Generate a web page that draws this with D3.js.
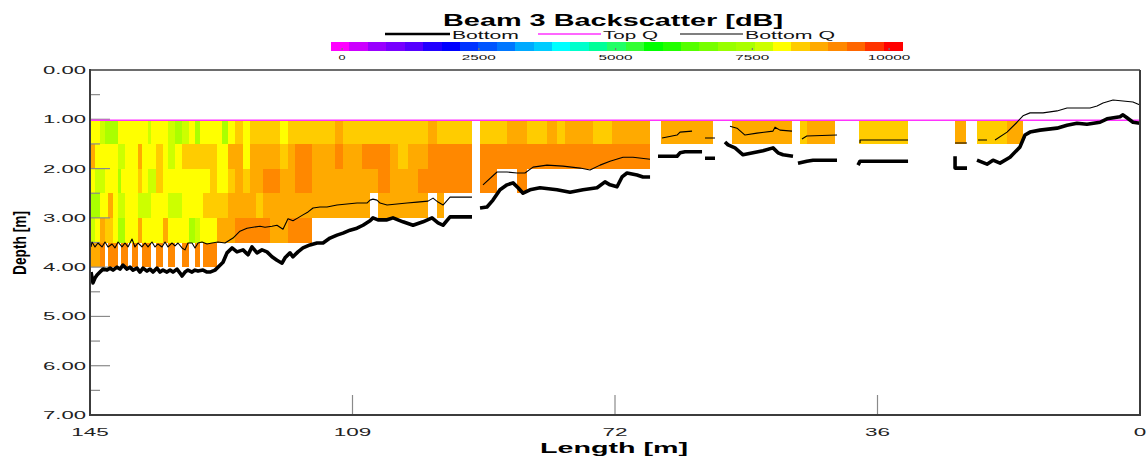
<!DOCTYPE html>
<html><head><meta charset="utf-8">
<script src="https://cdn.jsdelivr.net/npm/d3@7"></script>
<style>
body{margin:0;background:#fff;}
svg{display:block;}
text{font-family:"Liberation Sans",Arial,sans-serif;}
</style>
</head><body>
<svg id="c" width="1147" height="461"></svg>
<script>
// ---------- DATA ----------
// Column (ensemble) edges along the transect, in metres of length
const lengthEdges = [145.00,144.31,143.62,142.93,142.51,141.82,141.13,140.72,140.17,139.75,
 139.20,138.37,137.82,136.99,136.58,135.89,134.92,134.23,133.26,132.29,
 131.33,130.50,129.81,129.39,128.43,127.46,126.77,125.94,124.98,123.87,
 122.90,122.08,121.11,120.14,118.76,117.66,116.69,115.59,114.34,113.24,
 111.17,110.06,108.82,107.44,106.33,105.23,103.57,102.47,101.09,99.70,
 98.32,97.08,96.11,95.28,94.18,93.21,92.25,
 91.14,88.79,87.41,86.03,84.65,83.27,81.89,80.51,79.40,78.02,76.64,75.54,74.16,72.92,71.12,69.33,67.66,
 66.15,58.97,56.34,48.06,46.96,45.99,42.12,38.81,32.03,25.54,24.02,22.51,18.36,16.16];
// Depth cell edges (m)
const depthEdges = [1.03,1.5,2.0,2.5,3.0,3.5,4.0];
// Backscatter values per column, top cell first (null / missing = no data)
const backscatter = [
 [8000,8650,8000,7450,7800,8650],[8000,8000,7800,7450,8000,8650],[7800,8000,7800,8000,8650,8950],
 [7450,8000,8000,8000,8300,null],[7450,8000,8000,8650,8300,8950],[7450,8000,8000,8000,8000,8950],
 [8000,7800,7450,7800,7450,null],[8000,7800,8000,7800,7450,8950],[8000,8000,8000,8000,8000,8950],
 [8000,8000,8000,8000,8000,null],[8000,8000,8000,8000,8000,8950],[8000,8650,8300,7800,8650,null],
 [8000,8000,8000,7800,8000,8950],[7800,8000,7800,7800,8000,8950],[8000,8000,7800,8000,8000,null],
 [8000,8300,8300,8000,8000,8950],[8000,8000,8000,8000,8650,null],[7800,7800,8000,7800,8000,8950],
 [7450,8000,8000,7800,8000,null],[7800,8300,8000,8000,8000,8950],[8000,8300,8000,8000,7450,null],
 [7450,8300,8000,8000,7800,8950],[8000,8300,8000,8000,8000,null],[8000,8300,8000,8300,8000,8950],
 [8000,8300,8300,8300,8000,8950],[8000,8000,8000,8300,8650,null],[7450,8000,8000,8300,8650,null],
 [8000,8650,8300,8650,8650,null],[8300,8650,8650,8650,8950,null],[8000,8000,8300,8650,8950,null],
 [8300,8650,8650,8650,8950,null],[8300,8650,8650,8300,8950,null],[8300,8650,8950,8650,8950,null],
 [8300,8650,8950,8650,8650,null],[8000,8300,8650,8650,8650,null],[8300,8650,8650,8650,8950,null],
 [8300,8950,8950,8650,8950,null],[8300,8950,8950,8650,8950,null],[8300,8650,8650,8650,null,null],
 [8300,8650,8650,8650,null,null],[8650,8950,8650,8650,null,null],[8300,8650,8650,8650,null,null],
 [8300,8650,8650,8650,null,null],[8300,8950,8650,8650,null,null],[8300,8950,8650,null,null,null],
 [8300,8950,8950,8650,null,null],[8300,8650,8650,8650,null,null],[8300,8300,8650,8650,null,null],
 [8300,8650,8650,8650,null,null],[8300,8650,8950,8650,null,null],[8650,8950,8950,null,null,null],
 [8300,8950,8950,8650,null,null],[8300,8950,8950],[8300,8950,8950],[8300,8950,8950],[8300,8950,8950],
 [],
 [8300,8950,8950],[8300,8950],[8650,8950],[8650,8950,8950],[8300,8950],[8300,8950],[8650,8950],
 [8300,8950],[8650,8950],[8650,8950],[8650,8950],[8300,8950],[8300,8950],[8650,8950],[8650,8950],[8650,8950],
 [],[8650],[],[8650],[],[8300],[8650],[],[8300],[],[8650],[],[8300],[8650]
];
// Lines: [length m, depth m]; null = break
const bottomLine = [
 [144.86,4.10],[144.59,4.32],[144.31,4.22],[144.03,4.16],[143.62,4.10],[143.20,4.04],[142.65,4.06],[142.24,4.02],[141.82,4.06],[141.27,4.00],[140.86,4.04],[140.44,3.96],[139.89,4.04],[139.48,4.00],[139.06,4.06],[138.51,4.02],[138.10,4.10],[137.68,4.02],[137.13,4.08],[136.71,4.04],[136.30,4.10],[135.75,4.02],[135.33,4.10],[134.92,4.06],[134.37,4.10],[133.95,4.06],[133.54,4.10],[132.99,4.04],[132.57,4.12],[132.29,4.18],[131.88,4.10],[131.47,4.06],[130.91,4.10],[130.50,4.06],[130.08,4.08],[129.39,4.06],[128.84,4.10],[128.43,4.10],[127.74,4.06],[127.05,3.96],[126.63,3.90],[126.08,3.71],[125.39,3.61],[124.70,3.69],[123.87,3.65],[123.18,3.75],[122.63,3.59],[121.94,3.71],[121.25,3.65],[120.56,3.69],[119.87,3.79],[119.18,3.86],[118.48,3.92],[118.07,3.81],[117.38,3.71],[116.97,3.79],[116.28,3.69],[115.59,3.61],[114.62,3.55],[113.65,3.51],[112.82,3.51],[111.86,3.41],[110.89,3.35],[110.06,3.31],[109.09,3.25],[108.13,3.21],[107.30,3.15],[106.33,3.06],[105.92,3.00],[105.23,3.04],[103.98,3.04],[103.16,3.00],[101.78,3.08],[100.39,3.15],[99.01,3.08],[97.77,3.00],[96.94,3.10],[96.25,3.15],[95.28,2.98],[92.25,2.98],
 null,
 [91.14,2.80],[90.18,2.78],[89.35,2.64],[88.38,2.43],[87.41,2.33],[86.58,2.29],[85.89,2.39],[85.20,2.50],[84.24,2.43],[82.86,2.39],[80.51,2.43],[78.71,2.48],[76.92,2.43],[74.98,2.39],[73.88,2.27],[73.19,2.33],[72.22,2.37],[71.53,2.17],[70.84,2.09],[69.46,2.13],[68.63,2.17],[67.66,2.17],
 null,
 [66.56,1.75],[63.93,1.75],[63.52,1.68],[62.83,1.66],[60.48,1.66],
 null,
 [60.07,1.79],[58.69,1.79],
 null,
 [57.31,1.46],[56.89,1.52],[55.93,1.58],[54.82,1.72],[53.44,1.68],[52.06,1.64],[50.68,1.58],[49.99,1.68],[49.30,1.72],[47.92,1.75],
 null,
 [47.23,1.89],[46.02,1.85],[45.15,1.83],[41.84,1.83],
 null,
 [38.94,1.93],[38.66,1.85],[32.03,1.85],
 null,
 [25.54,1.75],[25.54,1.99],[23.89,1.99],
 null,
 [22.51,1.83],[21.13,1.91],[20.30,1.83],[19.33,1.89],[17.95,1.77],[16.57,1.56],[15.88,1.32],[15.19,1.26],[13.81,1.22],[11.46,1.18],[10.08,1.12],[8.70,1.08],[7.32,1.10],[5.52,1.06],[4.55,0.99],[2.76,0.95],[2.35,0.91],[1.80,0.97],[0.97,1.06],[0.00,1.08]
];
const bottomQLine = [
 [144.86,3.59],[144.72,3.49],[144.31,3.59],[143.90,3.51],[143.34,3.59],[142.93,3.49],[142.51,3.59],[141.96,3.53],[141.55,3.61],[141.13,3.49],[140.58,3.59],[140.17,3.51],[139.75,3.59],[139.20,3.43],[138.79,3.59],[138.37,3.51],[137.82,3.59],[137.40,3.51],[136.99,3.59],[136.44,3.49],[136.02,3.59],[135.61,3.53],[135.06,3.59],[134.64,3.49],[134.23,3.59],[133.68,3.51],[133.26,3.57],[132.85,3.51],[132.29,3.61],[131.88,3.65],[131.47,3.51],[130.91,3.51],[130.50,3.61],[130.08,3.51],[129.53,3.49],[128.84,3.53],[128.15,3.51],[127.32,3.49],[126.36,3.51],[125.25,3.41],[124.29,3.27],[123.32,3.21],[122.49,3.19],[121.52,3.17],[120.83,3.19],[119.87,3.17],[119.18,3.15],[118.35,3.23],[117.66,3.02],[116.97,3.06],[116.28,3.00],[115.59,2.94],[114.89,2.88],[114.20,2.80],[113.24,2.78],[112.27,2.78],[110.89,2.74],[109.51,2.72],[108.13,2.70],[106.75,2.70],[106.33,2.64],[105.92,2.62],[105.37,2.64],[104.95,2.70],[103.98,2.74],[102.60,2.72],[101.22,2.70],[99.84,2.68],[98.32,2.66],[97.63,2.60],[96.94,2.68],[96.25,2.74],[95.28,2.58],[92.25,2.58],
 null,
 [90.73,2.33],[88.79,2.07],[87.41,2.07],[86.03,2.09],[84.93,2.09],[83.82,1.97],[81.89,1.93],[79.68,1.95],[77.33,1.99],[75.95,2.03],[74.57,1.93],[73.19,1.85],[71.39,1.77],[70.01,1.77],[67.66,1.81],
 null,
 [66.00,1.38],[63.93,1.32],[63.52,1.26],[61.86,1.24],
 null,
 [60.07,1.38],[58.69,1.38],
 null,
 [56.62,1.14],[55.65,1.18],[54.55,1.32],[52.89,1.28],[50.68,1.24],[50.40,1.16],[49.72,1.22],[48.06,1.24],
 null,
 [46.68,1.40],[46.02,1.34],[41.84,1.32],
 null,
 [38.66,1.48],[38.66,1.42],[32.03,1.42],
 null,
 [25.54,1.48],[23.89,1.48],
 null,
 [22.37,1.42],[21.13,1.42],
 null,
 [20.02,1.42],[18.36,1.26],[16.98,1.06],[16.16,0.93],[15.19,0.87],[13.39,0.87],[11.46,0.83],[10.08,0.77],[6.90,0.77],[5.93,0.73],[5.11,0.67],[3.72,0.61],[2.35,0.63],[0.97,0.65],[0.00,0.71]
];
const topQLine = [[145,1.02],[0,1.02]];

const xTickValues = [145,108.75,72.5,36.25,0];
const xTickLabels = ["145","109","72","36","0"];
const yTickValues = [0,1,2,3,4,5,6,7];
const yTickLabels = ["0.00","1.00","2.00","3.00","4.00","5.00","6.00","7.00"];
const yMinorValues = [0.5,1.5,2.5,3.5,4.5,5.5,6.5];
const colorTickValues = [0,2500,5000,7500,10000];
const colorTickLabels = ["0","2500","5000","7500","10000"];
const colorDomain = [-201,10238];
const palette = ["#ff00ff","#cc00ff","#9900ff","#7700ff","#5500ff","#2200ff","#0000ff","#0033ff",
 "#0055ff","#0077ff","#00aaff","#00ccff","#00ffff","#00ffcc","#00ff99","#22ff66","#33ff33",
 "#00ff00","#22ff00","#55ff00","#77ff00","#99ff00","#aaff00","#ccff00","#ffff00","#ffcc00",
 "#ffaa00","#ff8800","#ff6600","#ff3300","#ff0000"];

// ---------- DRAW ----------
const svg = d3.select("#c");
const x = d3.scaleLinear().domain([145,0]).range([90,1140]);
const y = d3.scaleLinear().domain([0,7]).range([70,415]);
const color = d3.scaleQuantize().domain(colorDomain).range(palette);
const cbX = d3.scaleLinear().domain([0,10000]).range([342,889]);

// heatmap cells
const cells = [];
backscatter.forEach((col,i)=>{
  for(let j=0;j<depthEdges.length-1;j++){
    const v = col[j];
    if(v==null) continue;
    cells.push({l0:lengthEdges[i],l1:lengthEdges[i+1],d0:depthEdges[j],d1:depthEdges[j+1],v});
  }
});
svg.append("g").selectAll("rect").data(cells).join("rect")
  .attr("x",d=>x(d.l0)).attr("width",d=>x(d.l1)-x(d.l0))
  .attr("y",d=>y(d.d0)).attr("height",d=>y(d.d1)-y(d.d0))
  .attr("fill",d=>color(d.v)).attr("shape-rendering","crispEdges");

// ticks (inside)
const tk = svg.append("g").attr("stroke","#8a8a8a").attr("stroke-width",1.2);
tk.selectAll("line.maj").data(yTickValues.slice(1,-1)).join("line")
  .attr("x1",90).attr("x2",110).attr("y1",d=>y(d)).attr("y2",d=>y(d));
tk.selectAll("line.min").data(yMinorValues).join("line")
  .attr("x1",90).attr("x2",100).attr("y1",d=>y(d)).attr("y2",d=>y(d));
tk.selectAll("line.xt").data(xTickValues.slice(1,-1)).join("line")
  .attr("x1",d=>x(d)).attr("x2",d=>x(d)).attr("y1",415).attr("y2",395);

// lines
const line = d3.line().defined(d=>d!==null).x(d=>x(d[0])).y(d=>y(d[1]));
svg.append("path").datum(topQLine).attr("d",line).attr("fill","none")
  .attr("stroke","#ff33ff").attr("stroke-width",1.6);
svg.append("path").datum(bottomQLine).attr("d",line).attr("fill","none")
  .attr("stroke","#000").attr("stroke-width",1.1).attr("stroke-linejoin","round");
svg.append("path").datum(bottomLine).attr("d",line).attr("fill","none")
  .attr("stroke","#000").attr("stroke-width",3.6).attr("stroke-linejoin","round");

// frame
const fr = svg.append("g").attr("stroke","#3c3c3c").attr("fill","none");
fr.append("line").attr("x1",90).attr("x2",1140).attr("y1",70).attr("y2",70).attr("stroke-width",1.5);
fr.append("line").attr("x1",1140).attr("x2",1140).attr("y1",70).attr("y2",415).attr("stroke-width",2);
fr.append("line").attr("x1",90).attr("x2",90).attr("y1",69).attr("y2",416).attr("stroke-width",2);
fr.append("line").attr("x1",89).attr("x2",1141).attr("y1",415).attr("y2",415).attr("stroke-width",2);

// y tick labels
svg.append("g").selectAll("text").data(yTickValues).join("text")
  .attr("x",86).attr("y",d=>y(d)+4).attr("text-anchor","end")
  .attr("font-size",10).attr("fill","#222")
  .attr("textLength",43).attr("lengthAdjust","spacingAndGlyphs")
  .text((d,i)=>yTickLabels[i]);
// x tick labels
svg.append("g").selectAll("text").data(xTickValues).join("text")
  .attr("x",d=>x(d)).attr("y",436).attr("text-anchor","middle")
  .attr("font-size",10).attr("fill","#222")
  .attr("textLength",(d,i)=>xTickLabels[i].length*12.5).attr("lengthAdjust","spacingAndGlyphs")
  .text((d,i)=>xTickLabels[i]);

// axis titles
svg.append("text").attr("x",614).attr("y",453).attr("text-anchor","middle")
  .attr("font-size",15).attr("font-weight","bold")
  .attr("textLength",148).attr("lengthAdjust","spacingAndGlyphs").text("Length [m]");
svg.append("text").attr("transform","translate(26,243) rotate(-90)").attr("text-anchor","middle")
  .attr("font-size",18).attr("font-weight","bold")
  .attr("textLength",64).attr("lengthAdjust","spacingAndGlyphs").text("Depth [m]");

// title
svg.append("text").attr("x",613).attr("y",26).attr("text-anchor","middle")
  .attr("font-size",17).attr("font-weight","bold")
  .attr("textLength",340).attr("lengthAdjust","spacingAndGlyphs").text("Beam 3 Backscatter [dB]");

// legend
const legendItems = [
  {label:"Bottom",x0:385,x1:450,stroke:"#000",w:2.5,tl:67},
  {label:"Top Q",x0:538,x1:601,stroke:"#ff33ff",w:1.5,tl:55},
  {label:"Bottom Q",x0:680,x1:743,stroke:"#000",w:1.2,tl:90}
];
const lg = svg.append("g");
lg.selectAll("line").data(legendItems).join("line")
  .attr("x1",d=>d.x0).attr("x2",d=>d.x1).attr("y1",34).attr("y2",34)
  .attr("stroke",d=>d.stroke).attr("stroke-width",d=>d.w);
lg.selectAll("text").data(legendItems).join("text")
  .attr("x",d=>d.x1+2).attr("y",38.5).attr("font-size",10).attr("fill","#111")
  .attr("textLength",d=>d.tl).attr("lengthAdjust","spacingAndGlyphs").text(d=>d.label);

// colour bar
const cb = svg.append("g");
cb.selectAll("rect").data(palette).join("rect")
  .attr("x",c=>cbX(color.invertExtent(c)[0]))
  .attr("width",c=>cbX(color.invertExtent(c)[1])-cbX(color.invertExtent(c)[0])+0.5)
  .attr("y",42).attr("height",9).attr("fill",c=>c).attr("shape-rendering","crispEdges");
cb.selectAll("rect.t").data(colorTickValues).join("rect").attr("class","t")
  .attr("x",d=>cbX(d)-0.5).attr("y",48).attr("width",1.2).attr("height",2).attr("fill","#777");
cb.selectAll("text").data(colorTickValues).join("text")
  .attr("x",d=>cbX(d)).attr("y",59.5).attr("text-anchor","middle")
  .attr("font-size",8).attr("fill","#111")
  .attr("textLength",(d,i)=>colorTickLabels[i].length===1?7:colorTickLabels[i].length*8.5)
  .attr("lengthAdjust","spacingAndGlyphs")
  .text((d,i)=>colorTickLabels[i]);
</script>
</body></html>
